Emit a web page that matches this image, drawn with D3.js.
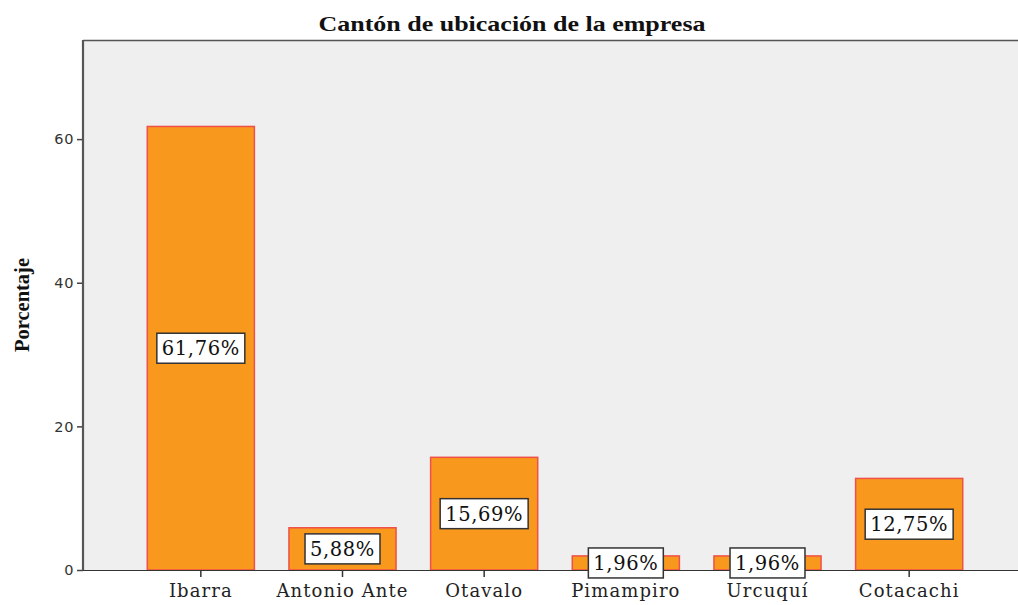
<!DOCTYPE html>
<html><head><meta charset="utf-8">
<script src="https://cdn.jsdelivr.net/npm/d3@7"></script>
<style>body{margin:0;background:#fff;}svg{display:block;}</style>
</head><body>
<svg id="c" width="1018" height="605"></svg>
<script>
const categories = ["Ibarra","Antonio Ante","Otavalo","Pimampiro","Urcuquí","Cotacachi"];
const values = [61.76, 5.88, 15.69, 1.96, 1.96, 12.75];
const valueLabels = ["61,76%","5,88%","15,69%","1,96%","1,96%","12,75%"];
const yTicks = [0,20,40,60];
const title = "Cantón de ubicación de la empresa";
const yTitle = "Porcentaje";

const svg = d3.select("#c");
const pL = 83, pT = 40, pB = 570, pR = 1018;
const y = d3.scaleLinear().domain([0, 73.8]).range([pB, pT]);
const x = d3.scaleBand().domain(categories).range([130, 980]).paddingInner(0.244).paddingOuter(0.122);

svg.append("rect").attr("x", pL).attr("y", pT).attr("width", pR-pL).attr("height", pB-pT).attr("fill", "#efefef");
svg.append("line").attr("x1", pL).attr("x2", pR).attr("y1", pT+0.5).attr("y2", pT+0.5).attr("stroke", "#555").attr("stroke-width", 1.5);

// bars
svg.selectAll("rect.bar").data(categories).join("rect").attr("class","bar")
  .attr("x", d => x(d)).attr("width", x.bandwidth())
  .attr("y", (d,i) => y(values[i])).attr("height", (d,i) => y(0)-y(values[i]))
  .attr("fill", "#f8981d").attr("stroke", "#f0504a").attr("stroke-width", 1.5);

// y axis
const ya = svg.append("g").attr("transform", `translate(${pL},0)`)
  .call(d3.axisLeft(y).tickValues(yTicks).tickSize(6).tickPadding(3));
ya.select(".domain").remove();
ya.selectAll("line").attr("stroke", "#444").attr("stroke-width", 1.5);
ya.selectAll("text").attr("font-family", "DejaVu Sans, Verdana, sans-serif").attr("font-size", 14.5).attr("letter-spacing", 0.6).attr("fill", "#333");
svg.append("line").attr("x1", pL).attr("x2", pL).attr("y1", pT).attr("y2", pB+1).attr("stroke", "#555").attr("stroke-width", 2.2);

// x axis
const xa = svg.append("g").attr("transform", `translate(0,${pB})`)
  .call(d3.axisBottom(x).tickSize(7).tickPadding(7));
xa.select(".domain").remove();
xa.selectAll("line").attr("stroke", "#333").attr("stroke-width", 1.5);
xa.selectAll("text").attr("font-family", "DejaVu Serif, serif").attr("font-size", 18).attr("letter-spacing", 1.1).attr("fill", "#222");
svg.append("line").attr("x1", pL).attr("x2", pR).attr("y1", pB+0.5).attr("y2", pB+0.5).attr("stroke", "#333").attr("stroke-width", 1.2);

// value labels
const lg = svg.selectAll("g.lab").data(categories).join("g").attr("class","lab")
  .attr("transform", (d,i) => `translate(${x(d)+x.bandwidth()/2},${y(values[i]/2)})`);
lg.append("rect").attr("fill", "#fff").attr("stroke", "#333").attr("stroke-width", 1.5);
const texts = lg.append("text").text((d,i) => valueLabels[i]).attr("text-anchor","middle").attr("dy","0.36em")
  .attr("font-family", "DejaVu Serif, serif").attr("font-size", 19.5).attr("letter-spacing", 0.6).attr("fill", "#111");
texts.each(function(d,i){
  const b = this.getBBox();
  d3.select(this.parentNode).select("rect").attr("x", -b.width/2-5).attr("width", b.width+10).attr("y", -15).attr("height", 30);
});

// titles
svg.append("text").attr("x", 512).attr("y", 31).attr("text-anchor","middle")
  .attr("font-family","Liberation Serif, Times New Roman, serif").attr("font-weight","bold").attr("font-size", 21)
  .attr("textLength", 387).attr("lengthAdjust","spacingAndGlyphs").attr("fill","#111").text(title);
svg.append("text").attr("transform","translate(29,305) rotate(-90)").attr("text-anchor","middle")
  .attr("font-family","Liberation Serif, Times New Roman, serif").attr("font-weight","bold").attr("font-size", 21)
  .attr("textLength", 94).attr("lengthAdjust","spacingAndGlyphs").attr("fill","#111").text(yTitle);
</script>
</body></html>
